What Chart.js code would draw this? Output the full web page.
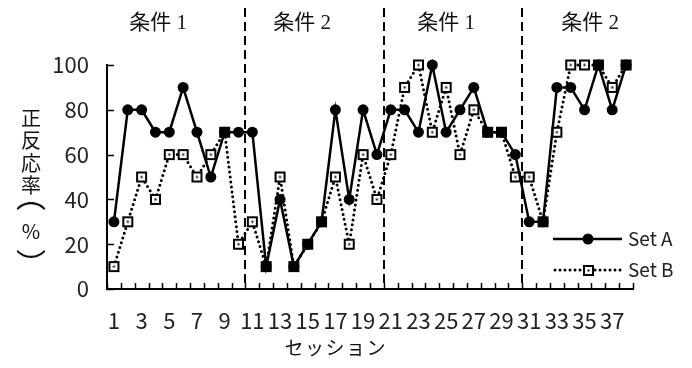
<!DOCTYPE html>
<html>
<head>
<meta charset="utf-8">
<script src="https://cdn.jsdelivr.net/npm/chart.js@4"></script>
<style>
  html, body { margin: 0; padding: 0; background: #fff; }
  canvas { display: block; }
</style>
</head>
<body>
<canvas id="myChart" width="692" height="368"></canvas>
<script>
// sessions 1..38
const sessions = ['1','2','3','4','5','6','7','8','9','10','11','12','13','14','15','16','17','18','19','20',
  '21','22','23','24','25','26','27','28','29','30','31','32','33','34','35','36','37','38'];
const setA = [30,80,80,70,70,90,70,50,70,70, 70,10,40,10,20,30,80,40,80,60,
  80,80,70,100,70,80,90,70,70,60, 30,30,90,90,80,100,80,100];
const setB = [10,30,50,40,60,60,50,60,70,20, 30,10,50,10,20,30,50,20,60,40,
  60,90,100,70,90,60,80,70,70,50, 50,30,70,100,100,100,90,100];
const yTicks = [0,20,40,60,80,100];
const phaseNames = ['条件 1','条件 2','条件 1','条件 2'];
const phaseLabelAt = [4.2, 14.6, 25.0, 35.4];   // session number under the label centre
const phaseBreaks = [10.5, 20.5, 30.5];         // dashed lines between sessions
const yTitle = ['正','反','応','率'];
const yTitleUnit = ['︵','%','︶'];
const xTitle = 'セッション';

const jp = '"Noto Sans CJK JP", "Noto Sans", sans-serif';
const serif = '"Liberation Serif", "Noto Sans CJK JP", serif';

// square marker for Set B (white box, dot in the middle)
function squareMarker() {
  const c = document.createElement('canvas');
  c.width = 13; c.height = 13;
  const g = c.getContext('2d');
  g.fillStyle = '#fff';
  g.fillRect(1, 1, 11, 11);
  g.strokeStyle = '#000';
  g.lineWidth = 2;
  g.strokeRect(2, 2, 9, 9);
  g.fillStyle = '#000';
  g.fillRect(5.5, 5.5, 2, 2);
  return c;
}
const sq = squareMarker();

const decor = {
  id: 'decor',
  beforeDatasetsDraw(chart) {
    const ctx = chart.ctx, x = chart.scales.x, y = chart.scales.y;
    ctx.save();
    // phase lines
    ctx.strokeStyle = '#000';
    ctx.lineWidth = 2;
    ctx.setLineDash([9, 5]);
    phaseBreaks.forEach(b => {
      const px = Math.round(x.getPixelForValue(b - 1));
      ctx.beginPath();
      ctx.moveTo(px, 8);
      ctx.lineTo(px, y.bottom);
      ctx.stroke();
    });
    ctx.setLineDash([]);
    // inside tick marks
    ctx.lineWidth = 1.5;
    for (let i = 0; i <= sessions.length; i++) {
      const px = Math.round(x.getPixelForValue(i - 0.5)) + 0.5;
      ctx.beginPath();
      ctx.moveTo(px, y.bottom);
      ctx.lineTo(px, y.bottom - 6);
      ctx.stroke();
    }
    yTicks.forEach(v => {
      const py = Math.round(y.getPixelForValue(v)) + 0.5;
      ctx.beginPath();
      ctx.moveTo(x.left, py);
      ctx.lineTo(x.left + 7, py);
      ctx.stroke();
    });
    // phase labels
    ctx.fillStyle = '#111';
    ctx.font = '21px ' + serif;
    ctx.textAlign = 'center';
    ctx.textBaseline = 'middle';
    phaseNames.forEach((n, i) => {
      ctx.fillText(n, x.getPixelForValue(phaseLabelAt[i] - 1), 23);
    });
    // y title, stacked vertically
    ctx.font = '20px ' + jp;
    yTitle.forEach((ch, i) => {
      ctx.fillText(ch, 31, 118 + i * 22.5);
    });
    // vertical brackets round the unit
    ctx.font = '30px ' + jp;
    ctx.fillText(yTitleUnit[0], 31, 196);
    ctx.fillText(yTitleUnit[2], 31, 264);
    ctx.font = '20px ' + jp;
    ctx.fillText(yTitleUnit[1], 31, 231);
    // x title
    ctx.font = '19px ' + jp;
    [...xTitle].forEach((ch, i) => {
      ctx.fillText(ch, 294 + i * 20.5, 348);
    });
    ctx.restore();
  },
  afterDraw(chart) {
    const ctx = chart.ctx;
    ctx.save();
    // legend
    ctx.strokeStyle = '#000';
    ctx.lineWidth = 2.5;
    ctx.beginPath(); ctx.moveTo(553, 239); ctx.lineTo(622, 239); ctx.stroke();
    ctx.fillStyle = '#000';
    ctx.beginPath(); ctx.arc(588, 239, 5.5, 0, Math.PI * 2); ctx.fill();
    ctx.lineWidth = 3;
    ctx.lineCap = 'round';
    ctx.setLineDash([0, 5]);
    ctx.beginPath(); ctx.moveTo(555, 270); ctx.lineTo(621, 270); ctx.stroke();
    ctx.setLineDash([]);
    ctx.drawImage(sq, 582, 264);
    ctx.fillStyle = '#222';
    ctx.font = '19px ' + jp;
    ctx.textAlign = 'left';
    ctx.textBaseline = 'middle';
    ctx.fillText('Set A', 628, 239);
    ctx.fillText('Set B', 628, 270);
    ctx.restore();
  }
};

new Chart(document.getElementById('myChart'), {
  type: 'line',
  data: {
    labels: sessions,
    datasets: [
      {
        label: 'Set A',
        data: setA,
        borderColor: '#000',
        borderWidth: 2.5,
        pointStyle: 'circle',
        pointRadius: 5.5,
        pointBackgroundColor: '#000',
        pointBorderWidth: 0,
        tension: 0,
        clip: false
      },
      {
        label: 'Set B',
        data: setB,
        borderColor: '#000',
        borderWidth: 3,
        borderDash: [0, 5],
        borderCapStyle: 'round',
        pointStyle: sq,
        pointRadius: 6,
        tension: 0,
        clip: false
      }
    ]
  },
  options: {
    responsive: false,
    animation: false,
    layout: { padding: { top: 65, right: 59, left: 0, bottom: 0 } },
    plugins: { legend: { display: false }, tooltip: { enabled: false } },
    scales: {
      x: {
        offset: true,
        grid: { display: false, drawTicks: false },
        border: { display: true, color: '#000', width: 2 },
        afterFit: s => { s.height = 79; },
        ticks: {
          autoSkip: false,
          maxRotation: 0,
          padding: 18,
          color: '#222',
          font: { size: 22, family: jp },
          callback: (v, i) => (i % 2 === 0 ? sessions[i] : '')
        }
      },
      y: {
        min: 0,
        max: 100,
        grid: { display: false, drawTicks: false },
        border: { display: true, color: '#000', width: 2 },
        afterFit: s => { s.width = 107; },
        ticks: {
          stepSize: 20,
          padding: 18,
          color: '#222',
          font: { size: 22, family: jp }
        }
      }
    }
  },
  plugins: [decor]
});
</script>
</body>
</html>
